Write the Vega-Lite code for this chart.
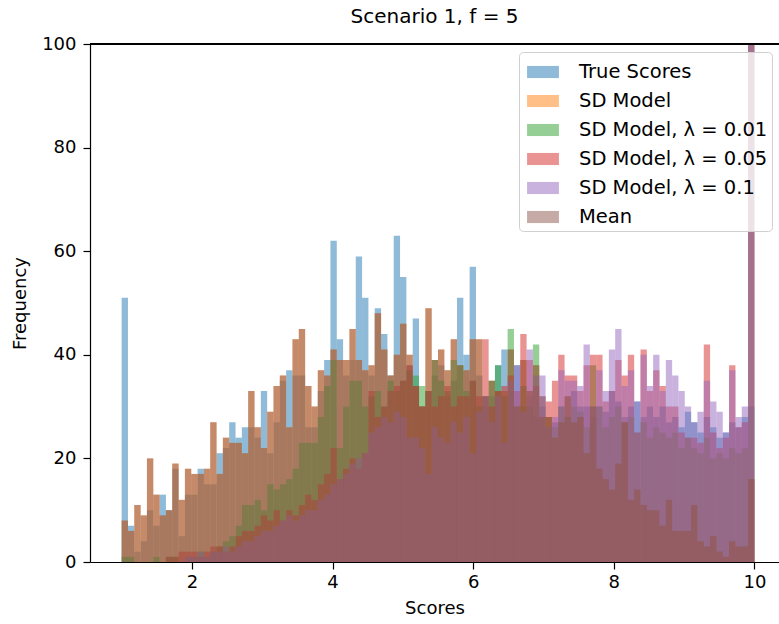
{
"$schema": "https://vega.github.io/schema/vega-lite/v6.json",
"width": 689,
"height": 518,
"autosize": {"type": "none"},
"padding": {"left": 90, "top": 44, "right": 0, "bottom": 62},
"background": "white",
"config": {"view": {"stroke": null}, "font": "DejaVu Sans"},
"title": {"text": "Scenario 1, f = 5", "fontSize": 20, "fontWeight": "normal", "font": "DejaVu Sans", "color": "#000000", "offset": 8},
"data": {"values": [
{"s":"True Scores","x":1,"x2":1.09,"y":51},{"s":"True Scores","x":1.09,"x2":1.18,"y":7},{"s":"True Scores","x":1.18,"x2":1.27,"y":2},{"s":"True Scores","x":1.27,"x2":1.36,"y":4},{"s":"True Scores","x":1.36,"x2":1.45,"y":10},{"s":"True Scores","x":1.45,"x2":1.54,"y":7},{"s":"True Scores","x":1.54,"x2":1.63,"y":13},{"s":"True Scores","x":1.63,"x2":1.72,"y":10},{"s":"True Scores","x":1.72,"x2":1.81,"y":18},{"s":"True Scores","x":1.81,"x2":1.9,"y":5},
{"s":"True Scores","x":1.9,"x2":1.99,"y":13},{"s":"True Scores","x":1.99,"x2":2.08,"y":13},{"s":"True Scores","x":2.08,"x2":2.17,"y":18},{"s":"True Scores","x":2.17,"x2":2.26,"y":15},{"s":"True Scores","x":2.26,"x2":2.35,"y":15},{"s":"True Scores","x":2.35,"x2":2.44,"y":21},{"s":"True Scores","x":2.44,"x2":2.53,"y":22},{"s":"True Scores","x":2.53,"x2":2.62,"y":27},{"s":"True Scores","x":2.62,"x2":2.71,"y":24},{"s":"True Scores","x":2.71,"x2":2.8,"y":26},
{"s":"True Scores","x":2.8,"x2":2.89,"y":26},{"s":"True Scores","x":2.89,"x2":2.98,"y":24},{"s":"True Scores","x":2.98,"x2":3.07,"y":33},{"s":"True Scores","x":3.07,"x2":3.16,"y":21},{"s":"True Scores","x":3.16,"x2":3.25,"y":27},{"s":"True Scores","x":3.25,"x2":3.34,"y":35},{"s":"True Scores","x":3.34,"x2":3.43,"y":37},{"s":"True Scores","x":3.43,"x2":3.52,"y":36},{"s":"True Scores","x":3.52,"x2":3.61,"y":36},{"s":"True Scores","x":3.61,"x2":3.7,"y":26},
{"s":"True Scores","x":3.7,"x2":3.79,"y":26},{"s":"True Scores","x":3.79,"x2":3.88,"y":33},{"s":"True Scores","x":3.88,"x2":3.97,"y":39},{"s":"True Scores","x":3.97,"x2":4.06,"y":62},{"s":"True Scores","x":4.06,"x2":4.15,"y":43},{"s":"True Scores","x":4.15,"x2":4.24,"y":36},{"s":"True Scores","x":4.24,"x2":4.33,"y":39},{"s":"True Scores","x":4.33,"x2":4.42,"y":59},{"s":"True Scores","x":4.42,"x2":4.51,"y":51},{"s":"True Scores","x":4.51,"x2":4.6,"y":36},
{"s":"True Scores","x":4.6,"x2":4.69,"y":49},{"s":"True Scores","x":4.69,"x2":4.78,"y":44},{"s":"True Scores","x":4.78,"x2":4.87,"y":36},{"s":"True Scores","x":4.87,"x2":4.96,"y":63},{"s":"True Scores","x":4.96,"x2":5.05,"y":55},{"s":"True Scores","x":5.05,"x2":5.14,"y":38},{"s":"True Scores","x":5.14,"x2":5.23,"y":47},{"s":"True Scores","x":5.23,"x2":5.32,"y":30},{"s":"True Scores","x":5.32,"x2":5.41,"y":33},{"s":"True Scores","x":5.41,"x2":5.5,"y":36},
{"s":"True Scores","x":5.5,"x2":5.59,"y":38},{"s":"True Scores","x":5.59,"x2":5.68,"y":32},{"s":"True Scores","x":5.68,"x2":5.77,"y":35},{"s":"True Scores","x":5.77,"x2":5.86,"y":51},{"s":"True Scores","x":5.86,"x2":5.95,"y":40},{"s":"True Scores","x":5.95,"x2":6.04,"y":57},{"s":"True Scores","x":6.04,"x2":6.13,"y":36},{"s":"True Scores","x":6.13,"x2":6.22,"y":30},{"s":"True Scores","x":6.22,"x2":6.31,"y":32},{"s":"True Scores","x":6.31,"x2":6.4,"y":38},
{"s":"True Scores","x":6.4,"x2":6.49,"y":41},{"s":"True Scores","x":6.49,"x2":6.58,"y":33},{"s":"True Scores","x":6.58,"x2":6.67,"y":38},{"s":"True Scores","x":6.67,"x2":6.76,"y":30},{"s":"True Scores","x":6.76,"x2":6.85,"y":32},{"s":"True Scores","x":6.85,"x2":6.94,"y":28},{"s":"True Scores","x":6.94,"x2":7.03,"y":30},{"s":"True Scores","x":7.03,"x2":7.12,"y":26},{"s":"True Scores","x":7.12,"x2":7.21,"y":27},{"s":"True Scores","x":7.21,"x2":7.3,"y":30},
{"s":"True Scores","x":7.3,"x2":7.39,"y":28},{"s":"True Scores","x":7.39,"x2":7.48,"y":33},{"s":"True Scores","x":7.48,"x2":7.57,"y":30},{"s":"True Scores","x":7.57,"x2":7.66,"y":30},{"s":"True Scores","x":7.66,"x2":7.75,"y":28},{"s":"True Scores","x":7.75,"x2":7.84,"y":30},{"s":"True Scores","x":7.84,"x2":7.93,"y":29},{"s":"True Scores","x":7.93,"x2":8.02,"y":33},{"s":"True Scores","x":8.02,"x2":8.11,"y":31},{"s":"True Scores","x":8.11,"x2":8.2,"y":28},
{"s":"True Scores","x":8.2,"x2":8.29,"y":30},{"s":"True Scores","x":8.29,"x2":8.38,"y":31},{"s":"True Scores","x":8.38,"x2":8.47,"y":28},{"s":"True Scores","x":8.47,"x2":8.56,"y":30},{"s":"True Scores","x":8.56,"x2":8.65,"y":28},{"s":"True Scores","x":8.65,"x2":8.74,"y":30},{"s":"True Scores","x":8.74,"x2":8.83,"y":27},{"s":"True Scores","x":8.83,"x2":8.92,"y":28},{"s":"True Scores","x":8.92,"x2":9.01,"y":26},{"s":"True Scores","x":9.01,"x2":9.1,"y":29},
{"s":"True Scores","x":9.1,"x2":9.19,"y":27},{"s":"True Scores","x":9.19,"x2":9.28,"y":25},{"s":"True Scores","x":9.28,"x2":9.37,"y":28},{"s":"True Scores","x":9.37,"x2":9.46,"y":26},{"s":"True Scores","x":9.46,"x2":9.55,"y":24},{"s":"True Scores","x":9.55,"x2":9.64,"y":25},{"s":"True Scores","x":9.64,"x2":9.73,"y":27},{"s":"True Scores","x":9.73,"x2":9.82,"y":26},{"s":"True Scores","x":9.82,"x2":9.91,"y":28},{"s":"True Scores","x":9.91,"x2":10,"y":30},

{"s":"SD Model","x":1,"x2":1.09,"y":8},{"s":"SD Model","x":1.09,"x2":1.18,"y":6},{"s":"SD Model","x":1.18,"x2":1.27,"y":11},{"s":"SD Model","x":1.27,"x2":1.36,"y":9},{"s":"SD Model","x":1.36,"x2":1.45,"y":20},{"s":"SD Model","x":1.45,"x2":1.54,"y":13},{"s":"SD Model","x":1.54,"x2":1.63,"y":9},{"s":"SD Model","x":1.63,"x2":1.72,"y":10},{"s":"SD Model","x":1.72,"x2":1.81,"y":19},{"s":"SD Model","x":1.81,"x2":1.9,"y":12},
{"s":"SD Model","x":1.9,"x2":1.99,"y":18},{"s":"SD Model","x":1.99,"x2":2.08,"y":17},{"s":"SD Model","x":2.08,"x2":2.17,"y":17},{"s":"SD Model","x":2.17,"x2":2.26,"y":18},{"s":"SD Model","x":2.26,"x2":2.35,"y":27},{"s":"SD Model","x":2.35,"x2":2.44,"y":17},{"s":"SD Model","x":2.44,"x2":2.53,"y":24},{"s":"SD Model","x":2.53,"x2":2.62,"y":23},{"s":"SD Model","x":2.62,"x2":2.71,"y":23},{"s":"SD Model","x":2.71,"x2":2.8,"y":21},
{"s":"SD Model","x":2.8,"x2":2.89,"y":33},{"s":"SD Model","x":2.89,"x2":2.98,"y":26},{"s":"SD Model","x":2.98,"x2":3.07,"y":22},{"s":"SD Model","x":3.07,"x2":3.16,"y":29},{"s":"SD Model","x":3.16,"x2":3.25,"y":34},{"s":"SD Model","x":3.25,"x2":3.34,"y":36},{"s":"SD Model","x":3.34,"x2":3.43,"y":26},{"s":"SD Model","x":3.43,"x2":3.52,"y":43},{"s":"SD Model","x":3.52,"x2":3.61,"y":45},{"s":"SD Model","x":3.61,"x2":3.7,"y":34},
{"s":"SD Model","x":3.7,"x2":3.79,"y":30},{"s":"SD Model","x":3.79,"x2":3.88,"y":37},{"s":"SD Model","x":3.88,"x2":3.97,"y":36},{"s":"SD Model","x":3.97,"x2":4.06,"y":41},{"s":"SD Model","x":4.06,"x2":4.15,"y":39},{"s":"SD Model","x":4.15,"x2":4.24,"y":39},{"s":"SD Model","x":4.24,"x2":4.33,"y":45},{"s":"SD Model","x":4.33,"x2":4.42,"y":39},{"s":"SD Model","x":4.42,"x2":4.51,"y":37},{"s":"SD Model","x":4.51,"x2":4.6,"y":38},
{"s":"SD Model","x":4.6,"x2":4.69,"y":48},{"s":"SD Model","x":4.69,"x2":4.78,"y":41},{"s":"SD Model","x":4.78,"x2":4.87,"y":36},{"s":"SD Model","x":4.87,"x2":4.96,"y":40},{"s":"SD Model","x":4.96,"x2":5.05,"y":46},{"s":"SD Model","x":5.05,"x2":5.14,"y":40},{"s":"SD Model","x":5.14,"x2":5.23,"y":34},{"s":"SD Model","x":5.23,"x2":5.32,"y":30},{"s":"SD Model","x":5.32,"x2":5.41,"y":49},{"s":"SD Model","x":5.41,"x2":5.5,"y":39},
{"s":"SD Model","x":5.5,"x2":5.59,"y":41},{"s":"SD Model","x":5.59,"x2":5.68,"y":37},{"s":"SD Model","x":5.68,"x2":5.77,"y":43},{"s":"SD Model","x":5.77,"x2":5.86,"y":38},{"s":"SD Model","x":5.86,"x2":5.95,"y":37},{"s":"SD Model","x":5.95,"x2":6.04,"y":43},{"s":"SD Model","x":6.04,"x2":6.13,"y":43},{"s":"SD Model","x":6.13,"x2":6.22,"y":32},{"s":"SD Model","x":6.22,"x2":6.31,"y":35},{"s":"SD Model","x":6.31,"x2":6.4,"y":33},
{"s":"SD Model","x":6.4,"x2":6.49,"y":33},{"s":"SD Model","x":6.49,"x2":6.58,"y":41},{"s":"SD Model","x":6.58,"x2":6.67,"y":30},{"s":"SD Model","x":6.67,"x2":6.76,"y":39},{"s":"SD Model","x":6.76,"x2":6.85,"y":33},{"s":"SD Model","x":6.85,"x2":6.94,"y":38},{"s":"SD Model","x":6.94,"x2":7.03,"y":28},{"s":"SD Model","x":7.03,"x2":7.12,"y":28},{"s":"SD Model","x":7.12,"x2":7.21,"y":24},{"s":"SD Model","x":7.21,"x2":7.3,"y":27},
{"s":"SD Model","x":7.3,"x2":7.39,"y":32},{"s":"SD Model","x":7.39,"x2":7.48,"y":27},{"s":"SD Model","x":7.48,"x2":7.57,"y":28},{"s":"SD Model","x":7.57,"x2":7.66,"y":21},{"s":"SD Model","x":7.66,"x2":7.75,"y":30},{"s":"SD Model","x":7.75,"x2":7.84,"y":18},{"s":"SD Model","x":7.84,"x2":7.93,"y":16},{"s":"SD Model","x":7.93,"x2":8.02,"y":14},{"s":"SD Model","x":8.02,"x2":8.11,"y":19},{"s":"SD Model","x":8.11,"x2":8.2,"y":27},
{"s":"SD Model","x":8.2,"x2":8.29,"y":12},{"s":"SD Model","x":8.29,"x2":8.38,"y":14},{"s":"SD Model","x":8.38,"x2":8.47,"y":11},{"s":"SD Model","x":8.47,"x2":8.56,"y":10},{"s":"SD Model","x":8.56,"x2":8.65,"y":10},{"s":"SD Model","x":8.65,"x2":8.74,"y":7},{"s":"SD Model","x":8.74,"x2":8.83,"y":12},{"s":"SD Model","x":8.83,"x2":8.92,"y":6},{"s":"SD Model","x":8.92,"x2":9.01,"y":6},{"s":"SD Model","x":9.01,"x2":9.1,"y":6},
{"s":"SD Model","x":9.1,"x2":9.19,"y":11},{"s":"SD Model","x":9.19,"x2":9.28,"y":4},{"s":"SD Model","x":9.28,"x2":9.37,"y":3},{"s":"SD Model","x":9.37,"x2":9.46,"y":5},{"s":"SD Model","x":9.46,"x2":9.55,"y":2},{"s":"SD Model","x":9.55,"x2":9.64,"y":1},{"s":"SD Model","x":9.64,"x2":9.73,"y":4},{"s":"SD Model","x":9.73,"x2":9.82,"y":3},{"s":"SD Model","x":9.82,"x2":9.91,"y":3},{"s":"SD Model","x":9.91,"x2":10,"y":16},

{"s":"SD Model, λ = 0.01","x":1,"x2":1.09,"y":1},{"s":"SD Model, λ = 0.01","x":1.09,"x2":1.18,"y":1},{"s":"SD Model, λ = 0.01","x":1.45,"x2":1.54,"y":1},{"s":"SD Model, λ = 0.01","x":1.63,"x2":1.72,"y":1},{"s":"SD Model, λ = 0.01","x":1.72,"x2":1.81,"y":1},
{"s":"SD Model, λ = 0.01","x":1.9,"x2":1.99,"y":1},{"s":"SD Model, λ = 0.01","x":1.99,"x2":2.08,"y":1},{"s":"SD Model, λ = 0.01","x":2.08,"x2":2.17,"y":2},{"s":"SD Model, λ = 0.01","x":2.17,"x2":2.26,"y":1},{"s":"SD Model, λ = 0.01","x":2.26,"x2":2.35,"y":2},{"s":"SD Model, λ = 0.01","x":2.35,"x2":2.44,"y":3},{"s":"SD Model, λ = 0.01","x":2.44,"x2":2.53,"y":4},{"s":"SD Model, λ = 0.01","x":2.53,"x2":2.62,"y":5},{"s":"SD Model, λ = 0.01","x":2.62,"x2":2.71,"y":7},{"s":"SD Model, λ = 0.01","x":2.71,"x2":2.8,"y":11},
{"s":"SD Model, λ = 0.01","x":2.8,"x2":2.89,"y":11},{"s":"SD Model, λ = 0.01","x":2.89,"x2":2.98,"y":12},{"s":"SD Model, λ = 0.01","x":2.98,"x2":3.07,"y":10},{"s":"SD Model, λ = 0.01","x":3.07,"x2":3.16,"y":15},{"s":"SD Model, λ = 0.01","x":3.16,"x2":3.25,"y":14},{"s":"SD Model, λ = 0.01","x":3.25,"x2":3.34,"y":15},{"s":"SD Model, λ = 0.01","x":3.34,"x2":3.43,"y":16},{"s":"SD Model, λ = 0.01","x":3.43,"x2":3.52,"y":18},{"s":"SD Model, λ = 0.01","x":3.52,"x2":3.61,"y":23},{"s":"SD Model, λ = 0.01","x":3.61,"x2":3.7,"y":23},
{"s":"SD Model, λ = 0.01","x":3.7,"x2":3.79,"y":23},{"s":"SD Model, λ = 0.01","x":3.79,"x2":3.88,"y":28},{"s":"SD Model, λ = 0.01","x":3.88,"x2":3.97,"y":34},{"s":"SD Model, λ = 0.01","x":3.97,"x2":4.06,"y":39},{"s":"SD Model, λ = 0.01","x":4.06,"x2":4.15,"y":22},{"s":"SD Model, λ = 0.01","x":4.15,"x2":4.24,"y":30},{"s":"SD Model, λ = 0.01","x":4.24,"x2":4.33,"y":35},{"s":"SD Model, λ = 0.01","x":4.33,"x2":4.42,"y":35},{"s":"SD Model, λ = 0.01","x":4.42,"x2":4.51,"y":30},{"s":"SD Model, λ = 0.01","x":4.51,"x2":4.6,"y":32},
{"s":"SD Model, λ = 0.01","x":4.6,"x2":4.69,"y":33},{"s":"SD Model, λ = 0.01","x":4.69,"x2":4.78,"y":30},{"s":"SD Model, λ = 0.01","x":4.78,"x2":4.87,"y":35},{"s":"SD Model, λ = 0.01","x":4.87,"x2":4.96,"y":33},{"s":"SD Model, λ = 0.01","x":4.96,"x2":5.05,"y":35},{"s":"SD Model, λ = 0.01","x":5.05,"x2":5.14,"y":37},{"s":"SD Model, λ = 0.01","x":5.14,"x2":5.23,"y":36},{"s":"SD Model, λ = 0.01","x":5.23,"x2":5.32,"y":34},{"s":"SD Model, λ = 0.01","x":5.32,"x2":5.41,"y":33},{"s":"SD Model, λ = 0.01","x":5.41,"x2":5.5,"y":39},
{"s":"SD Model, λ = 0.01","x":5.5,"x2":5.59,"y":35},{"s":"SD Model, λ = 0.01","x":5.59,"x2":5.68,"y":33},{"s":"SD Model, λ = 0.01","x":5.68,"x2":5.77,"y":39},{"s":"SD Model, λ = 0.01","x":5.77,"x2":5.86,"y":38},{"s":"SD Model, λ = 0.01","x":5.86,"x2":5.95,"y":33},{"s":"SD Model, λ = 0.01","x":5.95,"x2":6.04,"y":35},{"s":"SD Model, λ = 0.01","x":6.04,"x2":6.13,"y":30},{"s":"SD Model, λ = 0.01","x":6.13,"x2":6.22,"y":32},{"s":"SD Model, λ = 0.01","x":6.22,"x2":6.31,"y":35},{"s":"SD Model, λ = 0.01","x":6.31,"x2":6.4,"y":38},
{"s":"SD Model, λ = 0.01","x":6.4,"x2":6.49,"y":32},{"s":"SD Model, λ = 0.01","x":6.49,"x2":6.58,"y":45},{"s":"SD Model, λ = 0.01","x":6.58,"x2":6.67,"y":30},{"s":"SD Model, λ = 0.01","x":6.67,"x2":6.76,"y":34},{"s":"SD Model, λ = 0.01","x":6.76,"x2":6.85,"y":30},{"s":"SD Model, λ = 0.01","x":6.85,"x2":6.94,"y":42},{"s":"SD Model, λ = 0.01","x":6.94,"x2":7.03,"y":32},{"s":"SD Model, λ = 0.01","x":7.03,"x2":7.12,"y":28},{"s":"SD Model, λ = 0.01","x":7.12,"x2":7.21,"y":26},{"s":"SD Model, λ = 0.01","x":7.21,"x2":7.3,"y":30},
{"s":"SD Model, λ = 0.01","x":7.3,"x2":7.39,"y":28},{"s":"SD Model, λ = 0.01","x":7.39,"x2":7.48,"y":30},{"s":"SD Model, λ = 0.01","x":7.48,"x2":7.57,"y":29},{"s":"SD Model, λ = 0.01","x":7.57,"x2":7.66,"y":26},{"s":"SD Model, λ = 0.01","x":7.66,"x2":7.75,"y":38},{"s":"SD Model, λ = 0.01","x":7.75,"x2":7.84,"y":30},{"s":"SD Model, λ = 0.01","x":7.84,"x2":7.93,"y":26},{"s":"SD Model, λ = 0.01","x":7.93,"x2":8.02,"y":28},{"s":"SD Model, λ = 0.01","x":8.02,"x2":8.11,"y":30},{"s":"SD Model, λ = 0.01","x":8.11,"x2":8.2,"y":27},
{"s":"SD Model, λ = 0.01","x":8.2,"x2":8.29,"y":28},{"s":"SD Model, λ = 0.01","x":8.29,"x2":8.38,"y":25},{"s":"SD Model, λ = 0.01","x":8.38,"x2":8.47,"y":27},{"s":"SD Model, λ = 0.01","x":8.47,"x2":8.56,"y":24},{"s":"SD Model, λ = 0.01","x":8.56,"x2":8.65,"y":26},{"s":"SD Model, λ = 0.01","x":8.65,"x2":8.74,"y":25},{"s":"SD Model, λ = 0.01","x":8.74,"x2":8.83,"y":24},{"s":"SD Model, λ = 0.01","x":8.83,"x2":8.92,"y":25},{"s":"SD Model, λ = 0.01","x":8.92,"x2":9.01,"y":22},{"s":"SD Model, λ = 0.01","x":9.01,"x2":9.1,"y":24},
{"s":"SD Model, λ = 0.01","x":9.1,"x2":9.19,"y":22},{"s":"SD Model, λ = 0.01","x":9.19,"x2":9.28,"y":21},{"s":"SD Model, λ = 0.01","x":9.28,"x2":9.37,"y":24},{"s":"SD Model, λ = 0.01","x":9.37,"x2":9.46,"y":20},{"s":"SD Model, λ = 0.01","x":9.46,"x2":9.55,"y":21},{"s":"SD Model, λ = 0.01","x":9.55,"x2":9.64,"y":20},{"s":"SD Model, λ = 0.01","x":9.64,"x2":9.73,"y":22},{"s":"SD Model, λ = 0.01","x":9.73,"x2":9.82,"y":21},{"s":"SD Model, λ = 0.01","x":9.82,"x2":9.91,"y":22},{"s":"SD Model, λ = 0.01","x":9.91,"x2":10,"y":110},

{"s":"SD Model, λ = 0.05","x":1.63,"x2":1.72,"y":1},{"s":"SD Model, λ = 0.05","x":1.72,"x2":1.81,"y":1},{"s":"SD Model, λ = 0.05","x":1.81,"x2":1.9,"y":2},
{"s":"SD Model, λ = 0.05","x":1.9,"x2":1.99,"y":2},{"s":"SD Model, λ = 0.05","x":1.99,"x2":2.08,"y":2},{"s":"SD Model, λ = 0.05","x":2.08,"x2":2.17,"y":1},{"s":"SD Model, λ = 0.05","x":2.17,"x2":2.26,"y":2},{"s":"SD Model, λ = 0.05","x":2.26,"x2":2.35,"y":3},{"s":"SD Model, λ = 0.05","x":2.35,"x2":2.44,"y":3},{"s":"SD Model, λ = 0.05","x":2.44,"x2":2.53,"y":2},{"s":"SD Model, λ = 0.05","x":2.53,"x2":2.62,"y":3},{"s":"SD Model, λ = 0.05","x":2.62,"x2":2.71,"y":5},{"s":"SD Model, λ = 0.05","x":2.71,"x2":2.8,"y":6},
{"s":"SD Model, λ = 0.05","x":2.8,"x2":2.89,"y":6},{"s":"SD Model, λ = 0.05","x":2.89,"x2":2.98,"y":7},{"s":"SD Model, λ = 0.05","x":2.98,"x2":3.07,"y":9},{"s":"SD Model, λ = 0.05","x":3.07,"x2":3.16,"y":8},{"s":"SD Model, λ = 0.05","x":3.16,"x2":3.25,"y":10},{"s":"SD Model, λ = 0.05","x":3.25,"x2":3.34,"y":8},{"s":"SD Model, λ = 0.05","x":3.34,"x2":3.43,"y":10},{"s":"SD Model, λ = 0.05","x":3.43,"x2":3.52,"y":9},{"s":"SD Model, λ = 0.05","x":3.52,"x2":3.61,"y":11},{"s":"SD Model, λ = 0.05","x":3.61,"x2":3.7,"y":13},
{"s":"SD Model, λ = 0.05","x":3.7,"x2":3.79,"y":12},{"s":"SD Model, λ = 0.05","x":3.79,"x2":3.88,"y":15},{"s":"SD Model, λ = 0.05","x":3.88,"x2":3.97,"y":17},{"s":"SD Model, λ = 0.05","x":3.97,"x2":4.06,"y":22},{"s":"SD Model, λ = 0.05","x":4.06,"x2":4.15,"y":16},{"s":"SD Model, λ = 0.05","x":4.15,"x2":4.24,"y":18},{"s":"SD Model, λ = 0.05","x":4.24,"x2":4.33,"y":20},{"s":"SD Model, λ = 0.05","x":4.33,"x2":4.42,"y":18},{"s":"SD Model, λ = 0.05","x":4.42,"x2":4.51,"y":21},{"s":"SD Model, λ = 0.05","x":4.51,"x2":4.6,"y":33},
{"s":"SD Model, λ = 0.05","x":4.6,"x2":4.69,"y":28},{"s":"SD Model, λ = 0.05","x":4.69,"x2":4.78,"y":30},{"s":"SD Model, λ = 0.05","x":4.78,"x2":4.87,"y":33},{"s":"SD Model, λ = 0.05","x":4.87,"x2":4.96,"y":34},{"s":"SD Model, λ = 0.05","x":4.96,"x2":5.05,"y":35},{"s":"SD Model, λ = 0.05","x":5.05,"x2":5.14,"y":38},{"s":"SD Model, λ = 0.05","x":5.14,"x2":5.23,"y":34},{"s":"SD Model, λ = 0.05","x":5.23,"x2":5.32,"y":30},{"s":"SD Model, λ = 0.05","x":5.32,"x2":5.41,"y":33},{"s":"SD Model, λ = 0.05","x":5.41,"x2":5.5,"y":30},
{"s":"SD Model, λ = 0.05","x":5.5,"x2":5.59,"y":32},{"s":"SD Model, λ = 0.05","x":5.59,"x2":5.68,"y":34},{"s":"SD Model, λ = 0.05","x":5.68,"x2":5.77,"y":30},{"s":"SD Model, λ = 0.05","x":5.77,"x2":5.86,"y":32},{"s":"SD Model, λ = 0.05","x":5.86,"x2":5.95,"y":32},{"s":"SD Model, λ = 0.05","x":5.95,"x2":6.04,"y":35},{"s":"SD Model, λ = 0.05","x":6.04,"x2":6.13,"y":32},{"s":"SD Model, λ = 0.05","x":6.13,"x2":6.22,"y":43},{"s":"SD Model, λ = 0.05","x":6.22,"x2":6.31,"y":30},{"s":"SD Model, λ = 0.05","x":6.31,"x2":6.4,"y":33},
{"s":"SD Model, λ = 0.05","x":6.4,"x2":6.49,"y":34},{"s":"SD Model, λ = 0.05","x":6.49,"x2":6.58,"y":36},{"s":"SD Model, λ = 0.05","x":6.58,"x2":6.67,"y":33},{"s":"SD Model, λ = 0.05","x":6.67,"x2":6.76,"y":44},{"s":"SD Model, λ = 0.05","x":6.76,"x2":6.85,"y":39},{"s":"SD Model, λ = 0.05","x":6.85,"x2":6.94,"y":34},{"s":"SD Model, λ = 0.05","x":6.94,"x2":7.03,"y":32},{"s":"SD Model, λ = 0.05","x":7.03,"x2":7.12,"y":31},{"s":"SD Model, λ = 0.05","x":7.12,"x2":7.21,"y":35},{"s":"SD Model, λ = 0.05","x":7.21,"x2":7.3,"y":40},
{"s":"SD Model, λ = 0.05","x":7.3,"x2":7.39,"y":36},{"s":"SD Model, λ = 0.05","x":7.39,"x2":7.48,"y":36},{"s":"SD Model, λ = 0.05","x":7.48,"x2":7.57,"y":33},{"s":"SD Model, λ = 0.05","x":7.57,"x2":7.66,"y":38},{"s":"SD Model, λ = 0.05","x":7.66,"x2":7.75,"y":40},{"s":"SD Model, λ = 0.05","x":7.75,"x2":7.84,"y":40},{"s":"SD Model, λ = 0.05","x":7.84,"x2":7.93,"y":31},{"s":"SD Model, λ = 0.05","x":7.93,"x2":8.02,"y":33},{"s":"SD Model, λ = 0.05","x":8.02,"x2":8.11,"y":39},{"s":"SD Model, λ = 0.05","x":8.11,"x2":8.2,"y":36},
{"s":"SD Model, λ = 0.05","x":8.2,"x2":8.29,"y":40},{"s":"SD Model, λ = 0.05","x":8.29,"x2":8.38,"y":25},{"s":"SD Model, λ = 0.05","x":8.38,"x2":8.47,"y":41},{"s":"SD Model, λ = 0.05","x":8.47,"x2":8.56,"y":33},{"s":"SD Model, λ = 0.05","x":8.56,"x2":8.65,"y":37},{"s":"SD Model, λ = 0.05","x":8.65,"x2":8.74,"y":34},{"s":"SD Model, λ = 0.05","x":8.74,"x2":8.83,"y":30},{"s":"SD Model, λ = 0.05","x":8.83,"x2":8.92,"y":30},{"s":"SD Model, λ = 0.05","x":8.92,"x2":9.01,"y":25},{"s":"SD Model, λ = 0.05","x":9.01,"x2":9.1,"y":24},
{"s":"SD Model, λ = 0.05","x":9.1,"x2":9.19,"y":24},{"s":"SD Model, λ = 0.05","x":9.19,"x2":9.28,"y":23},{"s":"SD Model, λ = 0.05","x":9.28,"x2":9.37,"y":42},{"s":"SD Model, λ = 0.05","x":9.37,"x2":9.46,"y":25},{"s":"SD Model, λ = 0.05","x":9.46,"x2":9.55,"y":22},{"s":"SD Model, λ = 0.05","x":9.55,"x2":9.64,"y":24},{"s":"SD Model, λ = 0.05","x":9.64,"x2":9.73,"y":38},{"s":"SD Model, λ = 0.05","x":9.73,"x2":9.82,"y":26},{"s":"SD Model, λ = 0.05","x":9.82,"x2":9.91,"y":27},{"s":"SD Model, λ = 0.05","x":9.91,"x2":10,"y":110},

{"s":"SD Model, λ = 0.1","x":1.9,"x2":1.99,"y":1},{"s":"SD Model, λ = 0.1","x":1.99,"x2":2.08,"y":1},{"s":"SD Model, λ = 0.1","x":2.08,"x2":2.17,"y":2},{"s":"SD Model, λ = 0.1","x":2.17,"x2":2.26,"y":1},{"s":"SD Model, λ = 0.1","x":2.26,"x2":2.35,"y":2},{"s":"SD Model, λ = 0.1","x":2.35,"x2":2.44,"y":2},{"s":"SD Model, λ = 0.1","x":2.44,"x2":2.53,"y":3},{"s":"SD Model, λ = 0.1","x":2.53,"x2":2.62,"y":2},{"s":"SD Model, λ = 0.1","x":2.62,"x2":2.71,"y":3},{"s":"SD Model, λ = 0.1","x":2.71,"x2":2.8,"y":4},
{"s":"SD Model, λ = 0.1","x":2.8,"x2":2.89,"y":4},{"s":"SD Model, λ = 0.1","x":2.89,"x2":2.98,"y":5},{"s":"SD Model, λ = 0.1","x":2.98,"x2":3.07,"y":6},{"s":"SD Model, λ = 0.1","x":3.07,"x2":3.16,"y":6},{"s":"SD Model, λ = 0.1","x":3.16,"x2":3.25,"y":7},{"s":"SD Model, λ = 0.1","x":3.25,"x2":3.34,"y":8},{"s":"SD Model, λ = 0.1","x":3.34,"x2":3.43,"y":9},{"s":"SD Model, λ = 0.1","x":3.43,"x2":3.52,"y":8},{"s":"SD Model, λ = 0.1","x":3.52,"x2":3.61,"y":9},{"s":"SD Model, λ = 0.1","x":3.61,"x2":3.7,"y":10},
{"s":"SD Model, λ = 0.1","x":3.7,"x2":3.79,"y":10},{"s":"SD Model, λ = 0.1","x":3.79,"x2":3.88,"y":12},{"s":"SD Model, λ = 0.1","x":3.88,"x2":3.97,"y":13},{"s":"SD Model, λ = 0.1","x":3.97,"x2":4.06,"y":15},{"s":"SD Model, λ = 0.1","x":4.06,"x2":4.15,"y":16},{"s":"SD Model, λ = 0.1","x":4.15,"x2":4.24,"y":17},{"s":"SD Model, λ = 0.1","x":4.24,"x2":4.33,"y":19},{"s":"SD Model, λ = 0.1","x":4.33,"x2":4.42,"y":20},{"s":"SD Model, λ = 0.1","x":4.42,"x2":4.51,"y":21},{"s":"SD Model, λ = 0.1","x":4.51,"x2":4.6,"y":25},
{"s":"SD Model, λ = 0.1","x":4.6,"x2":4.69,"y":26},{"s":"SD Model, λ = 0.1","x":4.69,"x2":4.78,"y":28},{"s":"SD Model, λ = 0.1","x":4.78,"x2":4.87,"y":27},{"s":"SD Model, λ = 0.1","x":4.87,"x2":4.96,"y":29},{"s":"SD Model, λ = 0.1","x":4.96,"x2":5.05,"y":28},{"s":"SD Model, λ = 0.1","x":5.05,"x2":5.14,"y":24},{"s":"SD Model, λ = 0.1","x":5.14,"x2":5.23,"y":24},{"s":"SD Model, λ = 0.1","x":5.23,"x2":5.32,"y":22},{"s":"SD Model, λ = 0.1","x":5.32,"x2":5.41,"y":17},{"s":"SD Model, λ = 0.1","x":5.41,"x2":5.5,"y":26},
{"s":"SD Model, λ = 0.1","x":5.5,"x2":5.59,"y":24},{"s":"SD Model, λ = 0.1","x":5.59,"x2":5.68,"y":23},{"s":"SD Model, λ = 0.1","x":5.68,"x2":5.77,"y":27},{"s":"SD Model, λ = 0.1","x":5.77,"x2":5.86,"y":25},{"s":"SD Model, λ = 0.1","x":5.86,"x2":5.95,"y":28},{"s":"SD Model, λ = 0.1","x":5.95,"x2":6.04,"y":21},{"s":"SD Model, λ = 0.1","x":6.04,"x2":6.13,"y":29},{"s":"SD Model, λ = 0.1","x":6.13,"x2":6.22,"y":32},{"s":"SD Model, λ = 0.1","x":6.22,"x2":6.31,"y":27},{"s":"SD Model, λ = 0.1","x":6.31,"x2":6.4,"y":32},
{"s":"SD Model, λ = 0.1","x":6.4,"x2":6.49,"y":23},{"s":"SD Model, λ = 0.1","x":6.49,"x2":6.58,"y":35},{"s":"SD Model, λ = 0.1","x":6.58,"x2":6.67,"y":38},{"s":"SD Model, λ = 0.1","x":6.67,"x2":6.76,"y":29},{"s":"SD Model, λ = 0.1","x":6.76,"x2":6.85,"y":41},{"s":"SD Model, λ = 0.1","x":6.85,"x2":6.94,"y":36},{"s":"SD Model, λ = 0.1","x":6.94,"x2":7.03,"y":36},{"s":"SD Model, λ = 0.1","x":7.03,"x2":7.12,"y":26},{"s":"SD Model, λ = 0.1","x":7.12,"x2":7.21,"y":28},{"s":"SD Model, λ = 0.1","x":7.21,"x2":7.3,"y":37},
{"s":"SD Model, λ = 0.1","x":7.3,"x2":7.39,"y":35},{"s":"SD Model, λ = 0.1","x":7.39,"x2":7.48,"y":35},{"s":"SD Model, λ = 0.1","x":7.48,"x2":7.57,"y":34},{"s":"SD Model, λ = 0.1","x":7.57,"x2":7.66,"y":42},{"s":"SD Model, λ = 0.1","x":7.66,"x2":7.75,"y":30},{"s":"SD Model, λ = 0.1","x":7.75,"x2":7.84,"y":37},{"s":"SD Model, λ = 0.1","x":7.84,"x2":7.93,"y":33},{"s":"SD Model, λ = 0.1","x":7.93,"x2":8.02,"y":41},{"s":"SD Model, λ = 0.1","x":8.02,"x2":8.11,"y":45},{"s":"SD Model, λ = 0.1","x":8.11,"x2":8.2,"y":34},
{"s":"SD Model, λ = 0.1","x":8.2,"x2":8.29,"y":37},{"s":"SD Model, λ = 0.1","x":8.29,"x2":8.38,"y":31},{"s":"SD Model, λ = 0.1","x":8.38,"x2":8.47,"y":40},{"s":"SD Model, λ = 0.1","x":8.47,"x2":8.56,"y":34},{"s":"SD Model, λ = 0.1","x":8.56,"x2":8.65,"y":40},{"s":"SD Model, λ = 0.1","x":8.65,"x2":8.74,"y":33},{"s":"SD Model, λ = 0.1","x":8.74,"x2":8.83,"y":39},{"s":"SD Model, λ = 0.1","x":8.83,"x2":8.92,"y":36},{"s":"SD Model, λ = 0.1","x":8.92,"x2":9.01,"y":33},{"s":"SD Model, λ = 0.1","x":9.01,"x2":9.1,"y":30},
{"s":"SD Model, λ = 0.1","x":9.1,"x2":9.19,"y":27},{"s":"SD Model, λ = 0.1","x":9.19,"x2":9.28,"y":29},{"s":"SD Model, λ = 0.1","x":9.28,"x2":9.37,"y":35},{"s":"SD Model, λ = 0.1","x":9.37,"x2":9.46,"y":31},{"s":"SD Model, λ = 0.1","x":9.46,"x2":9.55,"y":29},{"s":"SD Model, λ = 0.1","x":9.55,"x2":9.64,"y":25},{"s":"SD Model, λ = 0.1","x":9.64,"x2":9.73,"y":37},{"s":"SD Model, λ = 0.1","x":9.73,"x2":9.82,"y":28},{"s":"SD Model, λ = 0.1","x":9.82,"x2":9.91,"y":30},{"s":"SD Model, λ = 0.1","x":9.91,"x2":10,"y":110},

{"s":"Mean","x":1,"x2":1.09,"y":8},{"s":"Mean","x":1.09,"x2":1.18,"y":6},{"s":"Mean","x":1.18,"x2":1.27,"y":11},{"s":"Mean","x":1.27,"x2":1.36,"y":9},{"s":"Mean","x":1.36,"x2":1.45,"y":20},{"s":"Mean","x":1.45,"x2":1.54,"y":13},{"s":"Mean","x":1.54,"x2":1.63,"y":9},{"s":"Mean","x":1.63,"x2":1.72,"y":10},{"s":"Mean","x":1.72,"x2":1.81,"y":19},{"s":"Mean","x":1.81,"x2":1.9,"y":12},
{"s":"Mean","x":1.9,"x2":1.99,"y":18},{"s":"Mean","x":1.99,"x2":2.08,"y":17},{"s":"Mean","x":2.08,"x2":2.17,"y":17},{"s":"Mean","x":2.17,"x2":2.26,"y":18},{"s":"Mean","x":2.26,"x2":2.35,"y":27},{"s":"Mean","x":2.35,"x2":2.44,"y":17},{"s":"Mean","x":2.44,"x2":2.53,"y":24},{"s":"Mean","x":2.53,"x2":2.62,"y":23},{"s":"Mean","x":2.62,"x2":2.71,"y":23},{"s":"Mean","x":2.71,"x2":2.8,"y":21},
{"s":"Mean","x":2.8,"x2":2.89,"y":33},{"s":"Mean","x":2.89,"x2":2.98,"y":26},{"s":"Mean","x":2.98,"x2":3.07,"y":22},{"s":"Mean","x":3.07,"x2":3.16,"y":29},{"s":"Mean","x":3.16,"x2":3.25,"y":34},{"s":"Mean","x":3.25,"x2":3.34,"y":36},{"s":"Mean","x":3.34,"x2":3.43,"y":26},{"s":"Mean","x":3.43,"x2":3.52,"y":43},{"s":"Mean","x":3.52,"x2":3.61,"y":45},{"s":"Mean","x":3.61,"x2":3.7,"y":34},
{"s":"Mean","x":3.7,"x2":3.79,"y":30},{"s":"Mean","x":3.79,"x2":3.88,"y":37},{"s":"Mean","x":3.88,"x2":3.97,"y":36},{"s":"Mean","x":3.97,"x2":4.06,"y":41},{"s":"Mean","x":4.06,"x2":4.15,"y":39},{"s":"Mean","x":4.15,"x2":4.24,"y":39},{"s":"Mean","x":4.24,"x2":4.33,"y":45},{"s":"Mean","x":4.33,"x2":4.42,"y":39},{"s":"Mean","x":4.42,"x2":4.51,"y":37},{"s":"Mean","x":4.51,"x2":4.6,"y":38},
{"s":"Mean","x":4.6,"x2":4.69,"y":48},{"s":"Mean","x":4.69,"x2":4.78,"y":41},{"s":"Mean","x":4.78,"x2":4.87,"y":36},{"s":"Mean","x":4.87,"x2":4.96,"y":40},{"s":"Mean","x":4.96,"x2":5.05,"y":46},{"s":"Mean","x":5.05,"x2":5.14,"y":40},{"s":"Mean","x":5.14,"x2":5.23,"y":34},{"s":"Mean","x":5.23,"x2":5.32,"y":30},{"s":"Mean","x":5.32,"x2":5.41,"y":49},{"s":"Mean","x":5.41,"x2":5.5,"y":39},
{"s":"Mean","x":5.5,"x2":5.59,"y":41},{"s":"Mean","x":5.59,"x2":5.68,"y":37},{"s":"Mean","x":5.68,"x2":5.77,"y":43},{"s":"Mean","x":5.77,"x2":5.86,"y":38},{"s":"Mean","x":5.86,"x2":5.95,"y":37},{"s":"Mean","x":5.95,"x2":6.04,"y":43},{"s":"Mean","x":6.04,"x2":6.13,"y":43},{"s":"Mean","x":6.13,"x2":6.22,"y":32},{"s":"Mean","x":6.22,"x2":6.31,"y":35},{"s":"Mean","x":6.31,"x2":6.4,"y":33},
{"s":"Mean","x":6.4,"x2":6.49,"y":33},{"s":"Mean","x":6.49,"x2":6.58,"y":41},{"s":"Mean","x":6.58,"x2":6.67,"y":30},{"s":"Mean","x":6.67,"x2":6.76,"y":39},{"s":"Mean","x":6.76,"x2":6.85,"y":33},{"s":"Mean","x":6.85,"x2":6.94,"y":38},{"s":"Mean","x":6.94,"x2":7.03,"y":28},{"s":"Mean","x":7.03,"x2":7.12,"y":28},{"s":"Mean","x":7.12,"x2":7.21,"y":24},{"s":"Mean","x":7.21,"x2":7.3,"y":27},
{"s":"Mean","x":7.3,"x2":7.39,"y":32},{"s":"Mean","x":7.39,"x2":7.48,"y":27},{"s":"Mean","x":7.48,"x2":7.57,"y":28},{"s":"Mean","x":7.57,"x2":7.66,"y":21},{"s":"Mean","x":7.66,"x2":7.75,"y":30},{"s":"Mean","x":7.75,"x2":7.84,"y":18},{"s":"Mean","x":7.84,"x2":7.93,"y":16},{"s":"Mean","x":7.93,"x2":8.02,"y":14},{"s":"Mean","x":8.02,"x2":8.11,"y":19},{"s":"Mean","x":8.11,"x2":8.2,"y":27},
{"s":"Mean","x":8.2,"x2":8.29,"y":12},{"s":"Mean","x":8.29,"x2":8.38,"y":14},{"s":"Mean","x":8.38,"x2":8.47,"y":11},{"s":"Mean","x":8.47,"x2":8.56,"y":10},{"s":"Mean","x":8.56,"x2":8.65,"y":10},{"s":"Mean","x":8.65,"x2":8.74,"y":7},{"s":"Mean","x":8.74,"x2":8.83,"y":12},{"s":"Mean","x":8.83,"x2":8.92,"y":6},{"s":"Mean","x":8.92,"x2":9.01,"y":6},{"s":"Mean","x":9.01,"x2":9.1,"y":6},
{"s":"Mean","x":9.1,"x2":9.19,"y":11},{"s":"Mean","x":9.19,"x2":9.28,"y":4},{"s":"Mean","x":9.28,"x2":9.37,"y":3},{"s":"Mean","x":9.37,"x2":9.46,"y":5},{"s":"Mean","x":9.46,"x2":9.55,"y":2},{"s":"Mean","x":9.55,"x2":9.64,"y":1},{"s":"Mean","x":9.64,"x2":9.73,"y":4},{"s":"Mean","x":9.73,"x2":9.82,"y":3},{"s":"Mean","x":9.82,"x2":9.91,"y":3},{"s":"Mean","x":9.91,"x2":10,"y":16}
]},
"layer": [
{
"mark": {"type": "bar", "opacity": 0.5, "clip": true, "strokeWidth": 0},
"encoding": {
"x": {"field": "x", "type": "quantitative", "scale": {"domain": [0.55, 10.35], "nice": false, "zero": false},
"axis": {"values": [2, 4, 6, 8, 10], "title": "Scores", "grid": false, "tickSize": 7, "tickWidth": 1.2, "tickColor": "#000000", "domainColor": "#000000", "domainWidth": 1.2, "labelFontSize": 18, "labelFont": "DejaVu Sans", "labelColor": "#000000", "labelPadding": 4, "labelFlush": false, "titleFontSize": 18, "titleFont": "DejaVu Sans", "titleFontWeight": "normal", "titleColor": "#000000", "titlePadding": 8}},
"x2": {"field": "x2"},
"y": {"field": "y", "type": "quantitative", "scale": {"domain": [0, 100], "nice": false},
"axis": {"values": [0, 20, 40, 60, 80, 100], "title": "Frequency", "grid": false, "tickSize": 7, "tickWidth": 1.2, "tickColor": "#000000", "domainColor": "#000000", "domainWidth": 1.2, "labelFontSize": 18, "labelFont": "DejaVu Sans", "labelColor": "#000000", "labelPadding": 7, "labelFlush": false, "titleFontSize": 18, "titleFont": "DejaVu Sans", "titleFontWeight": "normal", "titleColor": "#000000", "titlePadding": 12}},
"y2": {"datum": 0},
"color": {"field": "s", "type": "nominal",
"scale": {"domain": ["True Scores", "SD Model", "SD Model, λ = 0.01", "SD Model, λ = 0.05", "SD Model, λ = 0.1", "Mean"], "range": ["#1f77b4", "#ff7f0e", "#2ca02c", "#d62728", "#9467bd", "#8c564b"]},
"legend": {"orient": "none", "legendX": 429, "legendY": 8, "title": null, "symbolType": "M-1,-0.38H1V0.38H-1Z", "symbolSize": 1014, "symbolOpacity": 0.5, "symbolStrokeWidth": 0, "symbolOffset": 4, "labelFontSize": 19.5, "labelFont": "DejaVu Sans", "labelColor": "#000000", "labelOffset": 20, "labelLimit": 300, "rowPadding": 3, "padding": 4, "fillColor": "rgba(255,255,255,0.8)", "strokeColor": "#d0d0d0", "cornerRadius": 4}}
}
},
{
"mark": {"type": "rule", "color": "#000000", "strokeWidth": 1.2},
"encoding": {"y": {"datum": 100}}
}
]
}
